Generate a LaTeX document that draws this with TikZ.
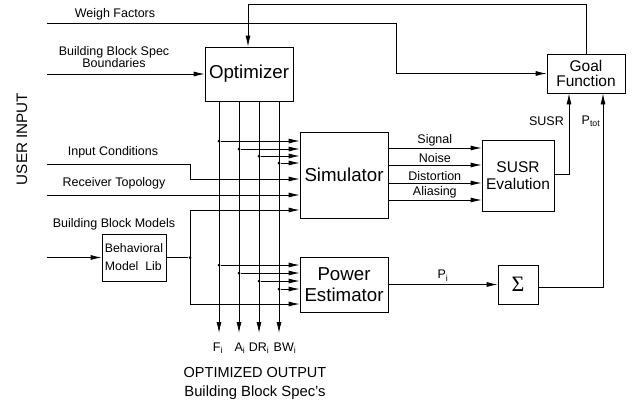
\documentclass[tikz,border=0pt]{standalone}
\usepackage{fontspec}
\setmainfont{Liberation Sans}
\newfontfamily\serifg{Liberation Serif}
\usetikzlibrary{arrows.meta}
\begin{document}
\begin{tikzpicture}[x=1pt,y=-1pt,
  blk/.style={draw, line width=0.8pt, inner sep=0pt, align=center},
  big/.style={font=\fontsize{18.7}{21}\selectfont},
  mid/.style={font=\fontsize{15.5}{16}\selectfont},
  wire/.style={line width=0.8pt},
  arr/.style={wire, -{Latex[length=11pt,width=5pt]}},
  dot/.style={circle, fill, inner sep=0pt, minimum size=3pt},
  lbl/.style={font=\fontsize{12.5}{12}\selectfont, inner sep=0pt, align=center},
]
\useasboundingbox (0,0) rectangle (642,405);

% blocks
\node[blk, big, minimum width=88pt, minimum height=54pt] (opt) at (249,74) {Optimizer};
\node[blk, big, minimum width=88pt, minimum height=86pt] (sim) at (344,175) {Simulator};
\node[blk, big, minimum width=88pt, minimum height=55pt] (pe) at (344,284.5) {Power\\Estimator};
\node[blk, font=\fontsize{12.3}{18}\selectfont, align=left, minimum width=64pt, minimum height=47pt] (beh) at (134,257.5) {Behavioral\\Model\ \ Lib};
\node[blk, font=\fontsize{15.5}{15.5}\selectfont, minimum width=78pt, minimum height=39pt] (goal) at (586,73.5) {Goal\\Function};
\node[blk, font=\fontsize{15.5}{17}\selectfont, minimum width=72pt, minimum height=71pt] (susr) at (518,175.5) {SUSR\\Evalution};
\node[blk, minimum width=40pt, minimum height=39pt, font=\serifg\fontsize{22}{22}\selectfont] (sig) at (518,284.5) {Σ};

% user input texts
\node[rotate=90, font=\fontsize{15.2}{16}\selectfont] (ui) at (22,139) {USER INPUT};
\node[lbl] (twf) at (115,14) {Weigh Factors};
\node[lbl] (tbb) at (114,57) {Building Block Spec\\Boundaries};
\node[lbl] (tic) at (113,152) {Input Conditions};
\node[lbl] (trt) at (114,183) {Receiver Topology};
\node[lbl] (tbm) at (114,224) {Building Block Models};

% inputs
\coordinate (wf) at (47,23);
\coordinate (wfc) at (396,23);
\draw[arr] (wf) -- (wfc) |- (goal.west);
\coordinate (bb) at (47,74);
\draw[arr] (bb) -- (opt.west |- bb);
\coordinate (ic) at (47,164);
\coordinate (icc) at (190,164);
\coordinate (icd) at (190,179);
\draw[arr] (ic) -- (icc) -- (icd) -- (sim.west |- icd);
\coordinate (rt) at (47,195);
\draw[arr] (rt) -- (sim.west |- rt);
\coordinate (bm) at (47,257.5);
\draw[arr] (bm) -- (beh.west);
\node[dot] (bj) at (190,257.5) {};
\draw[wire] (beh.east) -- (bj);
\coordinate (bt) at (190,210);
\coordinate (bbt) at (190,304);
\draw[arr] (bt) -- (sim.west |- bt);
\draw[arr] (bbt) -- (pe.west |- bbt);
\draw[wire] (bt) -- (bbt);

% feedback
\coordinate (fb1) at (586,4);
\coordinate (fb2) at (248,4);
\draw[arr] (goal.north) -- (fb1) -- (fb2) -- (opt.north -| fb2);

% optimizer outputs
\foreach \x/\n in {219/1,239/2,259/3,279/4}{
  \coordinate (c\n) at (\x,333);
  \draw[arr] (opt.south -| c\n) -- (c\n);
}
\foreach \n/\ys/\yp in {1/141/265,2/149/273,3/156/281,4/163/289}{
  \node[dot] (s\n) at (c\n |- 0,\ys) {};
  \draw[arr] (s\n) -- (sim.west |- s\n);
  \node[dot] (p\n) at (c\n |- 0,\yp) {};
  \draw[arr] (p\n) -- (pe.west |- p\n);
}
\node[lbl] (lf) at (218,348) {F\textsubscript{i}};
\node[lbl] (la) at (240,348) {A\textsubscript{i}};
\node[lbl] (ld) at (259,348) {DR\textsubscript{i}};
\node[lbl] (lb) at (285,348) {BW\textsubscript{i}};
\node[font=\fontsize{14.5}{15}\selectfont] (oo) at (255,372) {OPTIMIZED OUTPUT};
\node[font=\fontsize{14.8}{15}\selectfont] (bbs) at (255,393) {Building Block Spec's};

% simulator outputs
\foreach \y/\t in {148/Signal,165/Noise,183/Distortion,200/Aliasing}{
  \coordinate (so) at (388,\y);
  \draw[arr] (so) -- (susr.west |- so) node[lbl, midway, above=2pt] {\t};
}

% to goal
\coordinate (su) at (569,174);
\draw[arr] (susr.east |- su) -- (su) -- (goal.south -| su);
\node[lbl, anchor=east] (lsusr) at (564,121) {SUSR};
\node[lbl] (lpt) at (591,121) {P\textsubscript{tot}};

\draw[arr] (pe.east |- sig.west) -- (sig.west) node[lbl, midway, above=3pt] {P\textsubscript{i}};
\coordinate (pt) at (603,287);
\draw[arr] (sig.east |- pt) -- (pt) -- (goal.south -| pt);
\end{tikzpicture}
\end{document}
